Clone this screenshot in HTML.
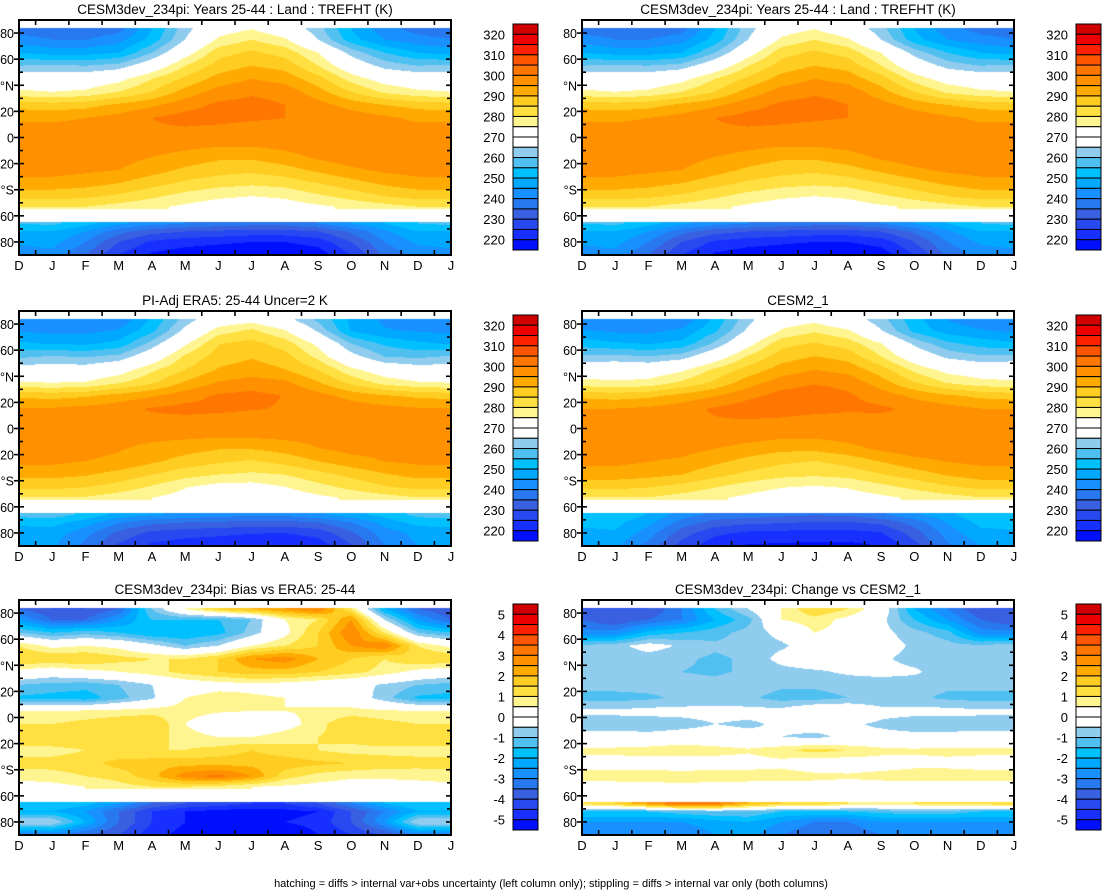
<!DOCTYPE html>
<html><head><meta charset="utf-8">
<style>
html,body{margin:0;padding:0;background:#fff;}
body{width:1102px;height:891px;position:relative;overflow:hidden;font-family:"Liberation Sans",Arial,sans-serif;}
canvas{position:absolute;z-index:1;}
svg{position:absolute;left:0;top:0;z-index:2;}
</style></head>
<body>
<svg id="chart" width="1102" height="891"></svg>
<script>
// ---------- data ----------
const xLabels=['D','J','F','M','A','M','J','J','A','S','O','N','D','J'];
const lats=[83,75,65,55,45,35,25,15,5,-5,-15,-25,-35,-45,-53,-66,-72,-80,-90];
const missingLatBands=[[83.5,91],[-64.5,-54.5]];
// CESM3dev model TREFHT (K), columns Jan..Dec
const modelT=[
[237,236,238,250,263,272,275,270,262,250,242,238],
[240,240,243,252,265,276,280,276,265,252,245,242],
[248,248,250,260,272,283,286,283,275,263,255,250],
[261,260,262,270,280,287,290,288,280,270,263,260],
[270,270,273,280,286,292,295,293,287,278,272,270],
[275,276,280,285,292,297,299,298,292,285,279,276],
[287,288,291,294,298,301,302,300,297,293,290,288],
[294,295,297,300,302,302,301,300,300,298,296,294],
[297,297,298,299,299,298,297,297,298,298,297,297],
[298,298,298,298,297,296,296,297,298,298,298,298],
[298,298,297,295,293,291,291,293,296,298,298,298],
[297,296,295,292,289,287,286,288,291,294,296,297],
[293,292,290,287,284,282,281,282,285,288,291,293],
[287,286,284,281,278,276,275,276,279,282,285,287],
[280,280,278,276,274,272,271,272,274,276,278,280],
[256,252,246,242,240,238,237,237,240,245,250,255],
[250,245,237,232,230,229,228,228,230,236,244,250],
[247,240,230,224,222,221,220,220,222,230,240,246],
[243,235,225,219,217,216,215,215,217,225,236,242]];
// Bias vs ERA5 (K)
const biasVsEra5=[
[-4,-4,-3.5,-1,0.5,1.5,2,2.5,3,1,-2,-3.5],
[-3.5,-3.5,-2.5,-1.5,-1.5,-1.5,-1,0.5,1,2.5,-0.5,-2.5],
[-1.5,-1.2,-1.5,-2,-2,-1.7,-0.8,0.3,1.5,3,1,-1],
[0.3,0.5,0.3,-0.3,-1,-0.5,0.5,1,1.5,2.5,3,1],
[1.5,1.5,1.2,1,1,1.5,2.5,2.8,2,1.5,1,1.5],
[0,0.3,0.5,0.8,1.2,1.5,1.8,1.8,1.5,1.2,0.8,0.3],
[-1.2,-1.3,-1,-0.5,0,0.2,0.3,0.2,0,-0.2,-0.6,-1],
[-1.7,-1.8,-1.2,-0.6,0.5,0.8,0.6,0.5,0.3,0,-0.8,-1.6],
[0.5,0.6,0.7,0.8,0.8,0.6,0.5,0.5,0.6,0.7,0.6,0.5],
[1,1.2,1.4,1.5,0.5,-0.2,-0.3,0.2,0.8,1.5,1.2,1],
[1.5,1.5,1.5,1.2,0.8,0.5,0.5,0.8,1,1.2,1.5,1.5],
[0.8,1,1,1,1,1.2,1.5,1.2,1,0.8,0.8,0.8],
[1.2,1.3,1.7,1.8,1.8,1.8,1.8,1.8,1.6,1.5,1.3,1.2],
[0.8,1,1.2,1.8,2.8,3.2,2.5,1.2,0.8,0.6,0.6,0.7],
[0.3,0.5,0.8,1,1,0.8,0.5,0.4,0.3,0.2,0.2,0.2],
[-1.5,-1.8,-2.5,-3.5,-4,-4.2,-4.5,-4.5,-4,-3,-2,-1.5],
[-2,-2.5,-3.5,-4.5,-5,-5.2,-5.3,-5.2,-5,-4,-3,-2],
[-0.5,-2,-3.5,-4.5,-5,-5.2,-5.3,-5,-4.8,-4,-2.5,-0.5],
[-3,-3.5,-4,-4.8,-5.2,-5.5,-5.5,-5.5,-5,-4.5,-4,-3]];
// Change vs CESM2_1 (K)
const changeVsCesm2=[
[-4,-4,-3,-1.5,-0.5,0.5,1.5,1,0,-2,-3,-4],
[-4,-3.5,-3,-2,-1.2,0.5,0.8,0.3,-0.3,-1.5,-2.5,-3.5],
[-2.8,-1.8,-1.5,-1.2,-0.8,-0.3,0.5,0.3,-0.3,-0.8,-1.3,-2.8],
[-0.7,-0.2,-0.6,-0.9,-0.8,-0.6,-0.2,-0.1,-0.2,-0.6,-0.8,-0.9],
[-0.9,-0.8,-0.9,-1.1,-0.9,-0.3,0,-0.2,-0.4,-0.7,-0.9,-0.9],
[-0.9,-0.8,-1,-1.1,-0.9,-0.7,-0.6,-0.4,-0.3,-0.4,-0.8,-0.9],
[-0.8,-0.8,-0.8,-0.8,-0.7,-0.9,-0.9,-0.8,-0.8,-0.8,-0.9,-0.8],
[-1.2,-1.1,-0.9,-0.8,-0.9,-1.2,-1.2,-1,-0.9,-0.9,-1.1,-1.2],
[-0.4,-0.3,-0.3,-0.3,-0.3,-0.3,0.2,0.2,-0.3,-0.3,-0.3,-0.4],
[-0.7,-0.8,-0.7,-0.5,-0.6,-0.4,-0.3,-0.4,-0.6,-0.8,-0.8,-0.7],
[-0.3,-0.3,-0.2,-0.2,-0.3,-0.5,-0.6,-0.4,-0.3,-0.3,-0.3,-0.3],
[0.7,0.8,1,0.8,0.6,0.9,1.2,1,0.7,0.6,0.7,0.7],
[0.2,0.1,-0.2,0.1,0.2,0.3,0,0.1,0.2,0.3,0.3,0.2],
[0.8,0.9,1,0.9,0.8,0.8,0.7,0.6,0.7,0.8,0.8,0.8],
[0.2,0.2,0.2,0.2,0.2,0.2,0.2,0.2,0.2,0.2,0.2,0.2],
[1.5,2.5,3.5,3.2,2,1.5,1.5,1,0.8,1,1.2,1.2],
[-1.5,-1.5,-1.2,-1,-1,-1.5,-1.5,-1.5,-1.3,-1.2,-1.2,-1.5],
[-2.5,-2.5,-2.5,-2.2,-2,-2.5,-3,-3,-2.5,-2.5,-2.5,-2.5],
[-3,-3,-3,-2.5,-2.3,-3,-3.5,-3.5,-3,-3,-3,-3]];
const tempTickLabels=[320,310,300,290,280,270,260,250,240,230,220];
const diffTickLabels=[5,4,3,2,1,0,-1,-2,-3,-4,-5];
const latTickLabels=['80','60','°N','20','0','20','°S','60','80'];
const latTickValues=[80,60,40,20,0,-20,-40,-60,-80];

// derived fields
const era5T=modelT.map((r,i)=>r.map((v,j)=>v-biasVsEra5[i][j]));
const cesm2T=modelT.map((r,i)=>r.map((v,j)=>v-changeVsCesm2[i][j]));

// ---------- style ----------
const palette=['#d00000','#ee0000','#ff2000','#ff5500','#ff7700','#ff9000','#ffaa00','#ffcc22','#ffe040','#fff590','#ffffff','#ffffff','#90ccee','#50c0f0','#00c0ff','#00a8ff','#1890ff','#2878f0','#3860e0','#2848f0','#1830ff','#0010ff'];
const NS='http://www.w3.org/2000/svg';
const svg=document.getElementById('chart');
function el(tag,attrs,parent){const e=document.createElementNS(NS,tag);for(const k in attrs)e.setAttribute(k,attrs[k]);(parent||svg).appendChild(e);return e;}

const W=432,H=235;
const panels=[
 {x0:19,y0:20,data:modelT,top:320,step:5,ticks:tempTickLabels,title:'CESM3dev_234pi: Years 25-44 : Land : TREFHT (K)',name:'model-left'},
 {x0:582,y0:20,data:modelT,top:320,step:5,ticks:tempTickLabels,title:'CESM3dev_234pi: Years 25-44 : Land : TREFHT (K)',name:'model-right'},
 {x0:19,y0:311,data:era5T,top:320,step:5,ticks:tempTickLabels,title:'PI-Adj ERA5: 25-44 Uncer=2 K',name:'era5'},
 {x0:582,y0:311,data:cesm2T,top:320,step:5,ticks:tempTickLabels,title:'CESM2_1',name:'cesm2'},
 {x0:19,y0:600,data:biasVsEra5,top:5,step:0.5,ticks:diffTickLabels,title:'CESM3dev_234pi: Bias vs ERA5: 25-44',name:'bias'},
 {x0:582,y0:600,data:changeVsCesm2,top:5,step:0.5,ticks:diffTickLabels,title:'CESM3dev_234pi: Change vs CESM2_1',name:'change'}];

function isMissing(lat){return missingLatBands.some(b=>lat>b[0]&&lat<b[1]);}
function gapBetween(a,b){return missingLatBands.some(g=>g[0]<a&&g[1]>b&&g[0]>b);}
function monthVal(row,m){const n=12;let f=Math.floor(m);const t=m-f;const a=row[((f%n)+n)%n],b=row[(((f+1)%n)+n)%n];return a+(b-a)*t;}
function sample(grid,lat,m){
  if(lat>=lats[0])return monthVal(grid[0],m);
  if(lat<=lats[lats.length-1])return monthVal(grid[lats.length-1],m);
  let i=0;while(!(lats[i]>=lat&&lat>=lats[i+1]))i++;
  const a=monthVal(grid[i],m),b=monthVal(grid[i+1],m);
  if(gapBetween(lats[i],lats[i+1]))return (lats[i]-lat)<(lat-lats[i+1])?a:b;
  const t=(lats[i]-lat)/(lats[i]-lats[i+1]);return a+(b-a)*t;
}
function colorIndex(v,top,step){if(v>=top)return 0;let k=Math.floor((top-v)/step)+1;return Math.min(21,k);}
function hex(c){return [parseInt(c.substr(1,2),16),parseInt(c.substr(3,2),16),parseInt(c.substr(5,2),16)];}
const rgb=palette.map(hex);
const xScale=(p,j)=>p.x0+j*W/13;
const yScale=(p,lat)=>p.y0+(90-lat)*H/180;

panels.forEach(p=>{
  const cv=document.createElement('canvas');cv.width=W;cv.height=H;
  cv.style.left=p.x0+'px';cv.style.top=p.y0+'px';
  
  
  document.body.appendChild(cv);
  const ctx=cv.getContext('2d');const img=ctx.createImageData(W,H);
  for(let y=0;y<H;y++){const lat=90-(y+0.5)*180/H;const miss=isMissing(lat);
    for(let x=0;x<W;x++){const o=(y*W+x)*4;let c=[255,255,255];
      if(!miss){const m=(x+0.5)/(W/13)-1;c=rgb[colorIndex(sample(p.data,lat,m),p.top,p.step)];}
      img.data[o]=c[0];img.data[o+1]=c[1];img.data[o+2]=c[2];img.data[o+3]=255;}}
  ctx.putImageData(img,0,0);
  const g=el('g',{});
  
  
  const t=el('text',{x:p.x0+W/2,y:p.y0-6,'text-anchor':'middle','font-size':'13.5',fill:'#000'},g);t.textContent=p.title;
  
  const fr=el('rect',{x:p.x0,y:p.y0,width:W,height:H,fill:'none',stroke:'#000','stroke-width':2},g);
  
  for(let lat=-80;lat<=80;lat+=10){const y=yScale(p,lat);const major=lat%20===0;
    el('line',{x1:p.x0-(major?5:0),x2:p.x0+(major?5:4),y1:y,y2:y,stroke:'#000','stroke-width':1.6},g);
    el('line',{x1:p.x0+W-(major?5:4),x2:p.x0+W,y1:y,y2:y,stroke:'#000','stroke-width':1.6},g);}
  latTickValues.forEach((lv,i)=>{const tx=el('text',{x:p.x0-5,y:yScale(p,lv)+5,'text-anchor':'end','font-size':'12.5'},g);tx.textContent=latTickLabels[i];
    });
  for(let j=0;j<13;j++){const x=xScale(p,j+0.5);
    el('line',{x1:x,x2:x,y1:p.y0+H,y2:p.y0+H-5,stroke:'#000','stroke-width':1.6},g);
    el('line',{x1:x,x2:x,y1:p.y0,y2:p.y0+5,stroke:'#000','stroke-width':1.6},g);}
  xLabels.forEach((lb,j)=>{const tx=el('text',{x:xScale(p,j),y:p.y0+H+15,'text-anchor':'middle','font-size':'13'},g);tx.textContent=lb;
    });
  const cbx=p.x0+W+62,cby=p.y0+4,cbh=226,bh=cbh/22;
  const cb=el('g',{},g);
  palette.forEach((c,k)=>{const r=el('rect',{x:cbx,y:cby+k*bh,width:25,height:bh,fill:c,stroke:'#000','stroke-width':1},cb);
    });
  p.ticks.forEach((v,i)=>{const tx=el('text',{x:cbx-8,y:cby+(1+2*i)*bh+5,'text-anchor':'end','font-size':'13'},cb);tx.textContent=String(v);
    });
});
const cap=el('text',{x:551,y:887,'text-anchor':'middle','font-size':'11'});
cap.textContent='hatching = diffs > internal var+obs uncertainty (left column only); stippling = diffs > internal var only (both columns)';

</script>
</body></html>
